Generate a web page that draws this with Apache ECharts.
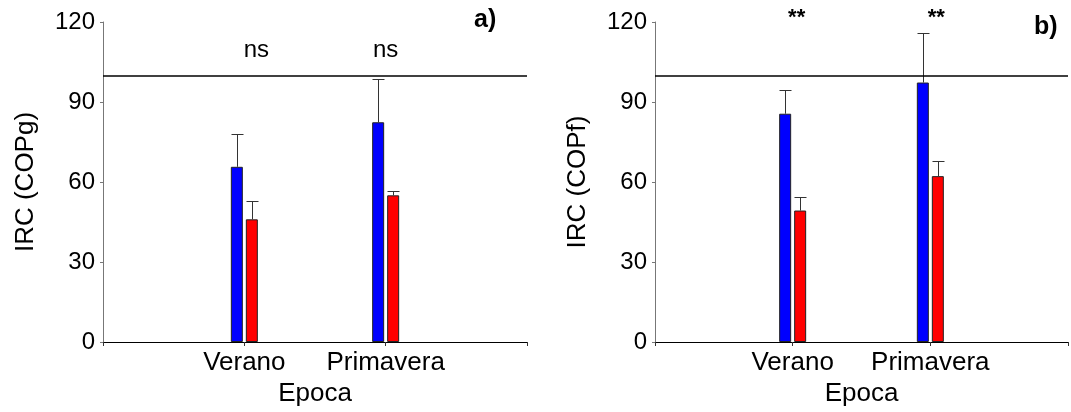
<!DOCTYPE html>
<html>
<head>
<meta charset="utf-8">
<script src="https://cdn.jsdelivr.net/npm/echarts@6/dist/echarts.min.js"></script>
<style>
html,body{margin:0;padding:0;background:#fff;}
#chart{width:1071px;height:412px;}
</style>
</head>
<body>
<div id="chart"></div>
<script>
// ---- data ----
const categories = ['Verano', 'Primavera'];
const yTicks = [0, 30, 60, 90, 120];
// panel a) IRC (COPg)
const copgBlue = [65.7, 82.4];
const copgBlueErr = [12.3, 16.4];
const copgRed = [46.0, 55.0];
const copgRedErr = [7.0, 1.6];
const copgSig = ['ns', 'ns'];
// panel b) IRC (COPf)
const copfBlue = [85.6, 97.3];
const copfBlueErr = [8.9, 18.6];
const copfRed = [49.3, 62.2];
const copfRedErr = [5.0, 5.8];
const copfSig = ['**', '**'];
const reference = 100;

// ---- helpers ----
const FONT = 'Liberation Sans, Arial, sans-serif';
const axisCats = [''].concat(categories, ['']);
const pad = arr => [null].concat(arr, [null]);
const BAR_W = 12, GAP = 3, HALF = (BAR_W + GAP) / 2;

function errRender(offset) {
  return function (params, api) {
    const x = api.value(0), v = api.value(1), e = api.value(2);
    const p0 = api.coord([x, v]);
    const p1 = api.coord([x, v + e]);
    const cx = Math.round(p0[0] + offset) + 0.5;
    const ty = Math.round(p1[1]) + 0.5;
    return {
      type: 'group',
      children: [
        { type: 'line', shape: { x1: cx, y1: p0[1], x2: cx, y2: ty }, style: { stroke: '#333', lineWidth: 1 } },
        { type: 'line', shape: { x1: cx - 6, y1: ty, x2: cx + 6, y2: ty }, style: { stroke: '#333', lineWidth: 1 } }
      ]
    };
  };
}
function errData(vals, errs) {
  return vals.map((v, i) => [i + 1, v, errs[i]]);
}

function panelSeries(idx, blue, blueErr, red, redErr, sig, sigY, sigOffsets, sigFont) {
  return [
    {
      type: 'bar', xAxisIndex: idx, yAxisIndex: idx,
      data: pad(blue), barWidth: BAR_W, barGap: (GAP / BAR_W * 100) + '%',
      itemStyle: { color: '#0000ff', borderColor: '#222', borderWidth: 1 },
      silent: true,
      markLine: {
        silent: true, symbol: 'none', animation: false,
        label: { show: false },
        lineStyle: { color: '#000', width: 1.5, type: 'solid', opacity: 1 },
        data: [{ yAxis: reference }]
      }
    },
    {
      type: 'bar', xAxisIndex: idx, yAxisIndex: idx,
      data: pad(red), barWidth: BAR_W,
      itemStyle: { color: '#ff0000', borderColor: '#222', borderWidth: 1 },
      silent: true
    },
    {
      type: 'custom', xAxisIndex: idx, yAxisIndex: idx,
      renderItem: errRender(-HALF), data: errData(blue, blueErr), silent: true, z: 3
    },
    {
      type: 'custom', xAxisIndex: idx, yAxisIndex: idx,
      renderItem: errRender(HALF), data: errData(red, redErr), silent: true, z: 3
    },
    {
      type: 'scatter', xAxisIndex: idx, yAxisIndex: idx, clip: false,
      symbolSize: 0, silent: true,
      itemStyle: { opacity: 1 },
      data: sig.map((s, i) => ({
        value: [i + 1, sigY],
        label: { show: true, formatter: s, position: 'inside', offset: [sigOffsets[i], 0],
                 color: '#000', textBorderWidth: 0, opacity: 1,
                 fontFamily: FONT, fontSize: sigFont.size, fontWeight: sigFont.weight }
      }))
    }
  ];
}

function xAxis(idx) {
  return {
    type: 'category', gridIndex: idx, data: axisCats, boundaryGap: false,
    name: 'Epoca', nameLocation: 'middle', nameGap: 39,
    nameTextStyle: { color: '#000', fontFamily: FONT, fontSize: 26 },
    axisLine: { lineStyle: { color: '#000', width: 1 } },
    axisTick: { show: true, length: 4, interval: 0, inside: false, lineStyle: { color: '#333' } },
    axisLabel: { color: '#000', fontFamily: FONT, fontSize: 26, margin: 8, interval: 0 },
    splitLine: { show: false }
  };
}
function yAxis(idx, name) {
  return {
    type: 'value', gridIndex: idx, min: yTicks[0], max: yTicks[yTicks.length - 1],
    interval: yTicks[1] - yTicks[0],
    name: name, nameLocation: 'middle', nameGap: 64,
    nameTextStyle: { color: '#000', fontFamily: FONT, fontSize: 26 },
    axisLine: { show: true, lineStyle: { color: '#777', width: 1 } },
    axisTick: { show: true, length: 3, lineStyle: { color: '#777' } },
    axisLabel: { color: '#000', fontFamily: FONT, fontSize: 24, margin: 8 },
    splitLine: { show: false }
  };
}

const chart = echarts.init(document.getElementById('chart'), null, { renderer: 'canvas' });
chart.setOption({
  animation: false,
  backgroundColor: '#fff',
  grid: [
    { left: 103, top: 22, width: 424, height: 321 },
    { left: 655, top: 22, width: 424, height: 321 }
  ],
  xAxis: [xAxis(0), xAxis(1)],
  yAxis: [yAxis(0, 'IRC (COPg)'), yAxis(1, 'IRC (COPf)')],
  graphic: [
    { type: 'text', left: 474, top: 8, style: { text: 'a)', fontFamily: FONT, fontSize: 25, fontWeight: 'bold', fill: '#000' } },
    { type: 'text', left: 1034, top: 15, style: { text: 'b)', fontFamily: FONT, fontSize: 25, fontWeight: 'bold', fill: '#000' } }
  ],
  series: []
    .concat(panelSeries(0, copgBlue, copgBlueErr, copgRed, copgRedErr, copgSig, 109.5, [12, 0], { size: 24, weight: 'normal' }))
    .concat(panelSeries(1, copfBlue, copfBlueErr, copfRed, copfRedErr, copfSig, 121.5, [4, 6], { size: 22, weight: 'bold' }))
});
</script>
</body>
</html>
